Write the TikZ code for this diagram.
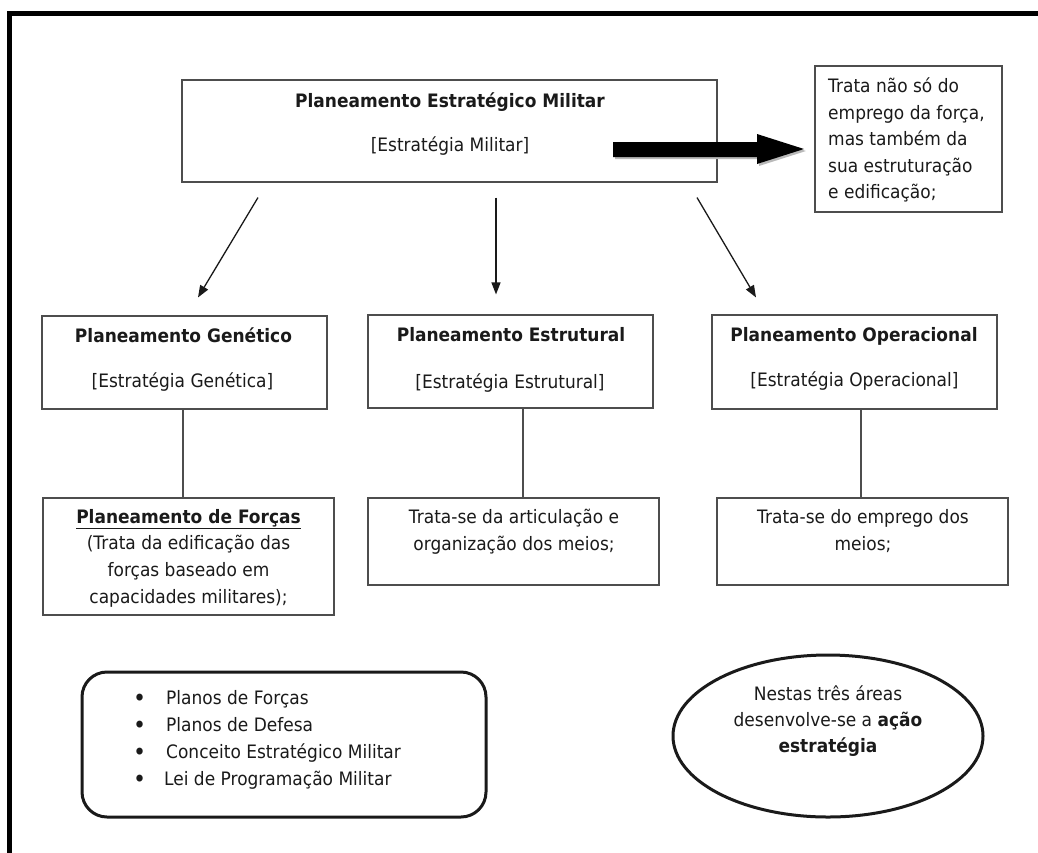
\documentclass[tikz,border=0pt]{standalone}
\usepackage{fontspec}
\setmainfont[FakeStretch=0.92]{DejaVu Sans}
\usetikzlibrary{arrows.meta,shapes.geometric}
\definecolor{boxgray}{HTML}{4D4D4D}
\definecolor{inkdark}{HTML}{1A1A1A}
\newcommand{\mybul}[1]{\makebox[#1][l]{\fontsize{24}{24}\selectfont\raisebox{-2.5pt}{•}}}
\begin{document}
\begin{tikzpicture}[x=1pt,y=-1pt,
  font=\fontsize{18.5}{26}\selectfont,
  box/.style={draw=boxgray, line width=1.1pt, inner sep=0pt, rectangle},
  txt/.style={inner sep=0pt, align=center, text=inkdark},
  thinarrow/.style={draw=inkdark, line width=1.3pt, -{Triangle[length=12pt,width=9pt]}},
  link/.style={draw=boxgray, line width=1.2pt},
  thick box/.style={draw=inkdark, line width=3pt}]
\useasboundingbox (0,0) rectangle (1038,852);
\begin{scope}
  \clip (0,0) rectangle (1038,852);
  \draw[line width=5pt, black] (9.5,13) rectangle (1060,880);
\end{scope}

% boxes
\node[box, minimum width=535pt, minimum height=102pt] (top) at (449.5,131) {};
\node[box, minimum width=187pt, minimum height=146pt] (rbox) at (908.5,139) {};
\node[box, minimum width=285pt, minimum height=93pt] (gen) at (184.5,362.5) {};
\node[box, minimum width=285pt, minimum height=93pt] (estr) at (510.5,361.5) {};
\node[box, minimum width=285pt, minimum height=94pt] (oper) at (854.5,362) {};
\node[box, minimum width=291pt, minimum height=117pt] (genl) at (188.5,556.5) {};
\node[box, minimum width=291pt, minimum height=87pt] (estrl) at (513.5,541.5) {};
\node[box, minimum width=291pt, minimum height=87pt] (operl) at (862.5,541.5) {};
\node[thick box, rounded corners=25pt, minimum width=404pt, minimum height=145pt, inner sep=0pt] (list) at (284,744.5) {};
\node[thick box, ellipse, minimum width=310pt, minimum height=162pt, inner sep=0pt] (ell) at (828,736) {};

% texts
\node[txt, anchor=base] (topt) at (450,107.5) {\textbf{Planeamento Estratégico Militar}};
\node[txt, anchor=base] (tops) at (450,151.5) {{[}Estratégia Militar{]}};
\node[txt, anchor=west, align=left, font=\fontsize{18.5}{26.5}\selectfont] (rtxt) at (828,140)
  {Trata não só do\\emprego da força,\\mas também da\\sua estruturação\\e edificação;};
\node[txt, anchor=base] (gent) at (183.5,342.5) {\textbf{Planeamento Genético}};
\node[txt, anchor=base] (gens) at (182.5,387.5) {{[}Estratégia Genética{]}};
\node[txt, anchor=base] (estrt) at (511,341.5) {\textbf{Planeamento Estrutural}};
\node[txt, anchor=base] (estrs) at (510,388.5) {{[}Estratégia Estrutural{]}};
\node[txt, anchor=base] (opert) at (854,341.5) {\textbf{Planeamento Operacional}};
\node[txt, anchor=base] (opers) at (854.5,386.5) {{[}Estratégia Operacional{]}};
\node[txt, font=\fontsize{18.5}{26.7}\selectfont] (genlt) at (188.5,558)
  {\textbf{\underline{Planeamento de Forças}}\\(Trata da edificação das\\forças baseado em\\capacidades militares);};
\node[txt, font=\fontsize{18.5}{27}\selectfont] (estrlt) at (514,531.5)
  {Trata-se da articulação e\\organização dos meios;};
\node[txt, font=\fontsize{18.5}{27}\selectfont] (operlt) at (863,531.5)
  {Trata-se do emprego dos\\meios;};
\node[txt, anchor=west, align=left, font=\fontsize{18.5}{27}\selectfont] (listt) at (133,739.5)
  {\mybul{33pt}Planos de Forças\\
   \mybul{33pt}Planos de Defesa\\
   \mybul{33pt}Conceito Estratégico Militar\\
   \mybul{31pt}Lei de Programação Militar};
\node[txt] (ellt) at (828,721)
  {Nestas três áreas\\desenvolve-se a \textbf{ação}\\\textbf{estratégia}};

% big arrow
\fill[gray!55] (615,144) -- (759,144) -- (759,136) -- (806,151) -- (759,166) -- (759,159) -- (615,159) -- cycle;
\fill[black] (613,142) -- (757,142) -- (757,134) -- (804,149) -- (757,164) -- (757,157) -- (613,157) -- cycle;

% thin arrows
\draw[thinarrow] ([xshift=-191.5pt,yshift=-15pt]top.south) -- ([xshift=13.5pt,yshift=18pt]gen.north);
\draw[thinarrow] ([xshift=46.5pt,yshift=-15pt]top.south) -- ([xshift=-14.5pt,yshift=20pt]estr.north);
\draw[thinarrow] ([xshift=247.5pt,yshift=-15pt]top.south) -- ([xshift=-98.5pt,yshift=17pt]oper.north);

% links
\draw[link] ([xshift=-1.5pt]gen.south) -- ([xshift=-1.5pt]gen.south |- genl.north);
\draw[link] ([xshift=12.5pt]estr.south) -- ([xshift=12.5pt]estr.south |- estrl.north);
\draw[link] ([xshift=6.5pt]oper.south) -- ([xshift=6.5pt]oper.south |- operl.north);
\end{tikzpicture}
\end{document}
